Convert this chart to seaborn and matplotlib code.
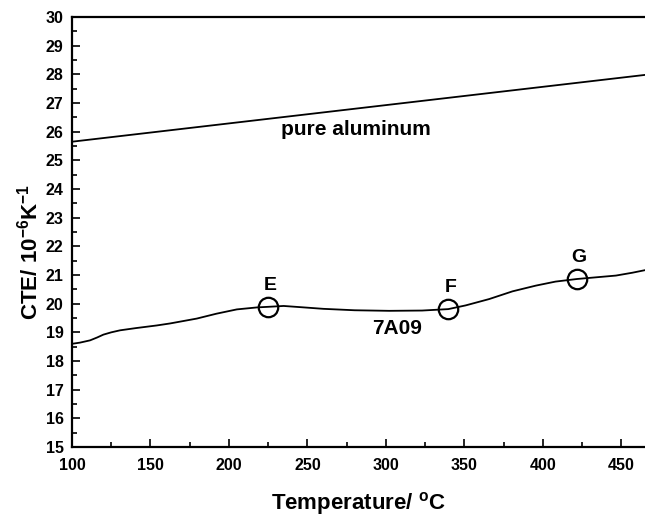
import numpy as np
import pandas as pd
import seaborn as sb
import matplotlib.pyplot as plt
from matplotlib.ticker import MultipleLocator

# pure aluminum reference line
al_temp = [100, 465]
al_cte = [25.65, 27.98]

# 7A09 alloy curve
alloy_temp = [100, 105, 111.5, 116, 120, 125, 130.6, 141, 154, 162.5, 179.5, 192, 205, 218,
              225, 234.8, 247.6, 260, 280, 302, 323, 339.7, 350.8, 365.7, 380.6,
              395.5, 408, 421.6, 434, 446.5, 457, 466]
alloy_cte = [18.6, 18.64, 18.72, 18.82, 18.92, 19.0, 19.07, 19.15, 19.24, 19.31, 19.48, 19.65, 19.8, 19.87,
             19.89, 19.92, 19.87, 19.82, 19.77, 19.75, 19.76, 19.81, 19.94, 20.16, 20.43,
             20.63, 20.77, 20.86, 20.92, 20.98, 21.08, 21.18]

# marked points E, F, G
mark_names = ['E', 'F', 'G']
mark_temp = [225, 339.7, 421.6]
mark_cte = [19.88, 19.81, 20.86]

sb.set_style('ticks')
plt.rcParams['font.family'] = ['Liberation Sans', 'DejaVu Sans']
plt.rcParams['font.weight'] = 'bold'
plt.rcParams['mathtext.fontset'] = 'custom'
plt.rcParams['mathtext.rm'] = 'Liberation Sans:bold'
plt.rcParams['mathtext.bf'] = 'Liberation Sans:bold'
plt.rcParams['mathtext.it'] = 'Liberation Sans:bold'
for key in ['text.color', 'axes.labelcolor', 'xtick.color', 'ytick.color', 'axes.edgecolor']:
    plt.rcParams[key] = 'black'

fig = plt.figure(figsize=(6.45, 5.17), dpi=100)
ax = fig.add_axes([72 / 645, 1 - 447 / 517, 1 - 72 / 645, 430 / 517])

al_df = pd.DataFrame({'T': al_temp, 'CTE': al_cte})
alloy_df = pd.DataFrame({'T': alloy_temp, 'CTE': alloy_cte})
mark_df = pd.DataFrame({'T': mark_temp, 'CTE': mark_cte, 'name': mark_names})

sb.lineplot(data=al_df, x='T', y='CTE', ax=ax, color='black', linewidth=1.3)
sb.lineplot(data=alloy_df, x='T', y='CTE', ax=ax, color='black', linewidth=1.3)
ax.plot(mark_df['T'], mark_df['CTE'], linestyle='none', marker='o', markersize=14,
        markerfacecolor='none', markeredgecolor='black', markeredgewidth=1.6)

for _, row in mark_df.iterrows():
    ax.text(row['T'] + 1.5, row['CTE'] + 0.74, row['name'], ha='center', va='center',
            fontsize=14, fontweight='bold')

ax.text(281, 26.06, 'pure aluminum', ha='center', va='center', fontsize=15, fontweight='bold')
ax.text(307, 19.12, '7A09', ha='center', va='center', fontsize=15, fontweight='bold')

ax.set_xlim(100, 465)
ax.set_ylim(15, 30)
ax.xaxis.set_major_locator(MultipleLocator(50))
ax.xaxis.set_minor_locator(MultipleLocator(25))
ax.yaxis.set_major_locator(MultipleLocator(1))
ax.yaxis.set_minor_locator(MultipleLocator(0.5))
ax.tick_params(which='both', direction='in', top=False, right=False, width=1.2, colors='black')
ax.tick_params(which='major', length=6)
ax.tick_params(which='minor', length=3.5)
ax.tick_params(axis='y', which='major', labelsize=11.5, pad=6)
ax.tick_params(axis='x', which='major', labelsize=11.5, pad=8)
for lab in ax.get_xticklabels() + ax.get_yticklabels():
    lab.set_fontweight('bold')

for side in ['left', 'bottom', 'top']:
    ax.spines[side].set_linewidth(1.6)
    ax.spines[side].set_color('black')
ax.spines['right'].set_visible(False)

ax.set_xlabel(r'$\mathbf{Temperature/\ ^{o}C}$', fontsize=16, labelpad=12)
ax.set_ylabel(r'$\mathbf{CTE/\ 10^{-6}K^{-1}}$', fontsize=16)
ax.yaxis.set_label_coords(-0.052, 0.453)

plt.savefig('out.png', dpi=100)
plt.close()
